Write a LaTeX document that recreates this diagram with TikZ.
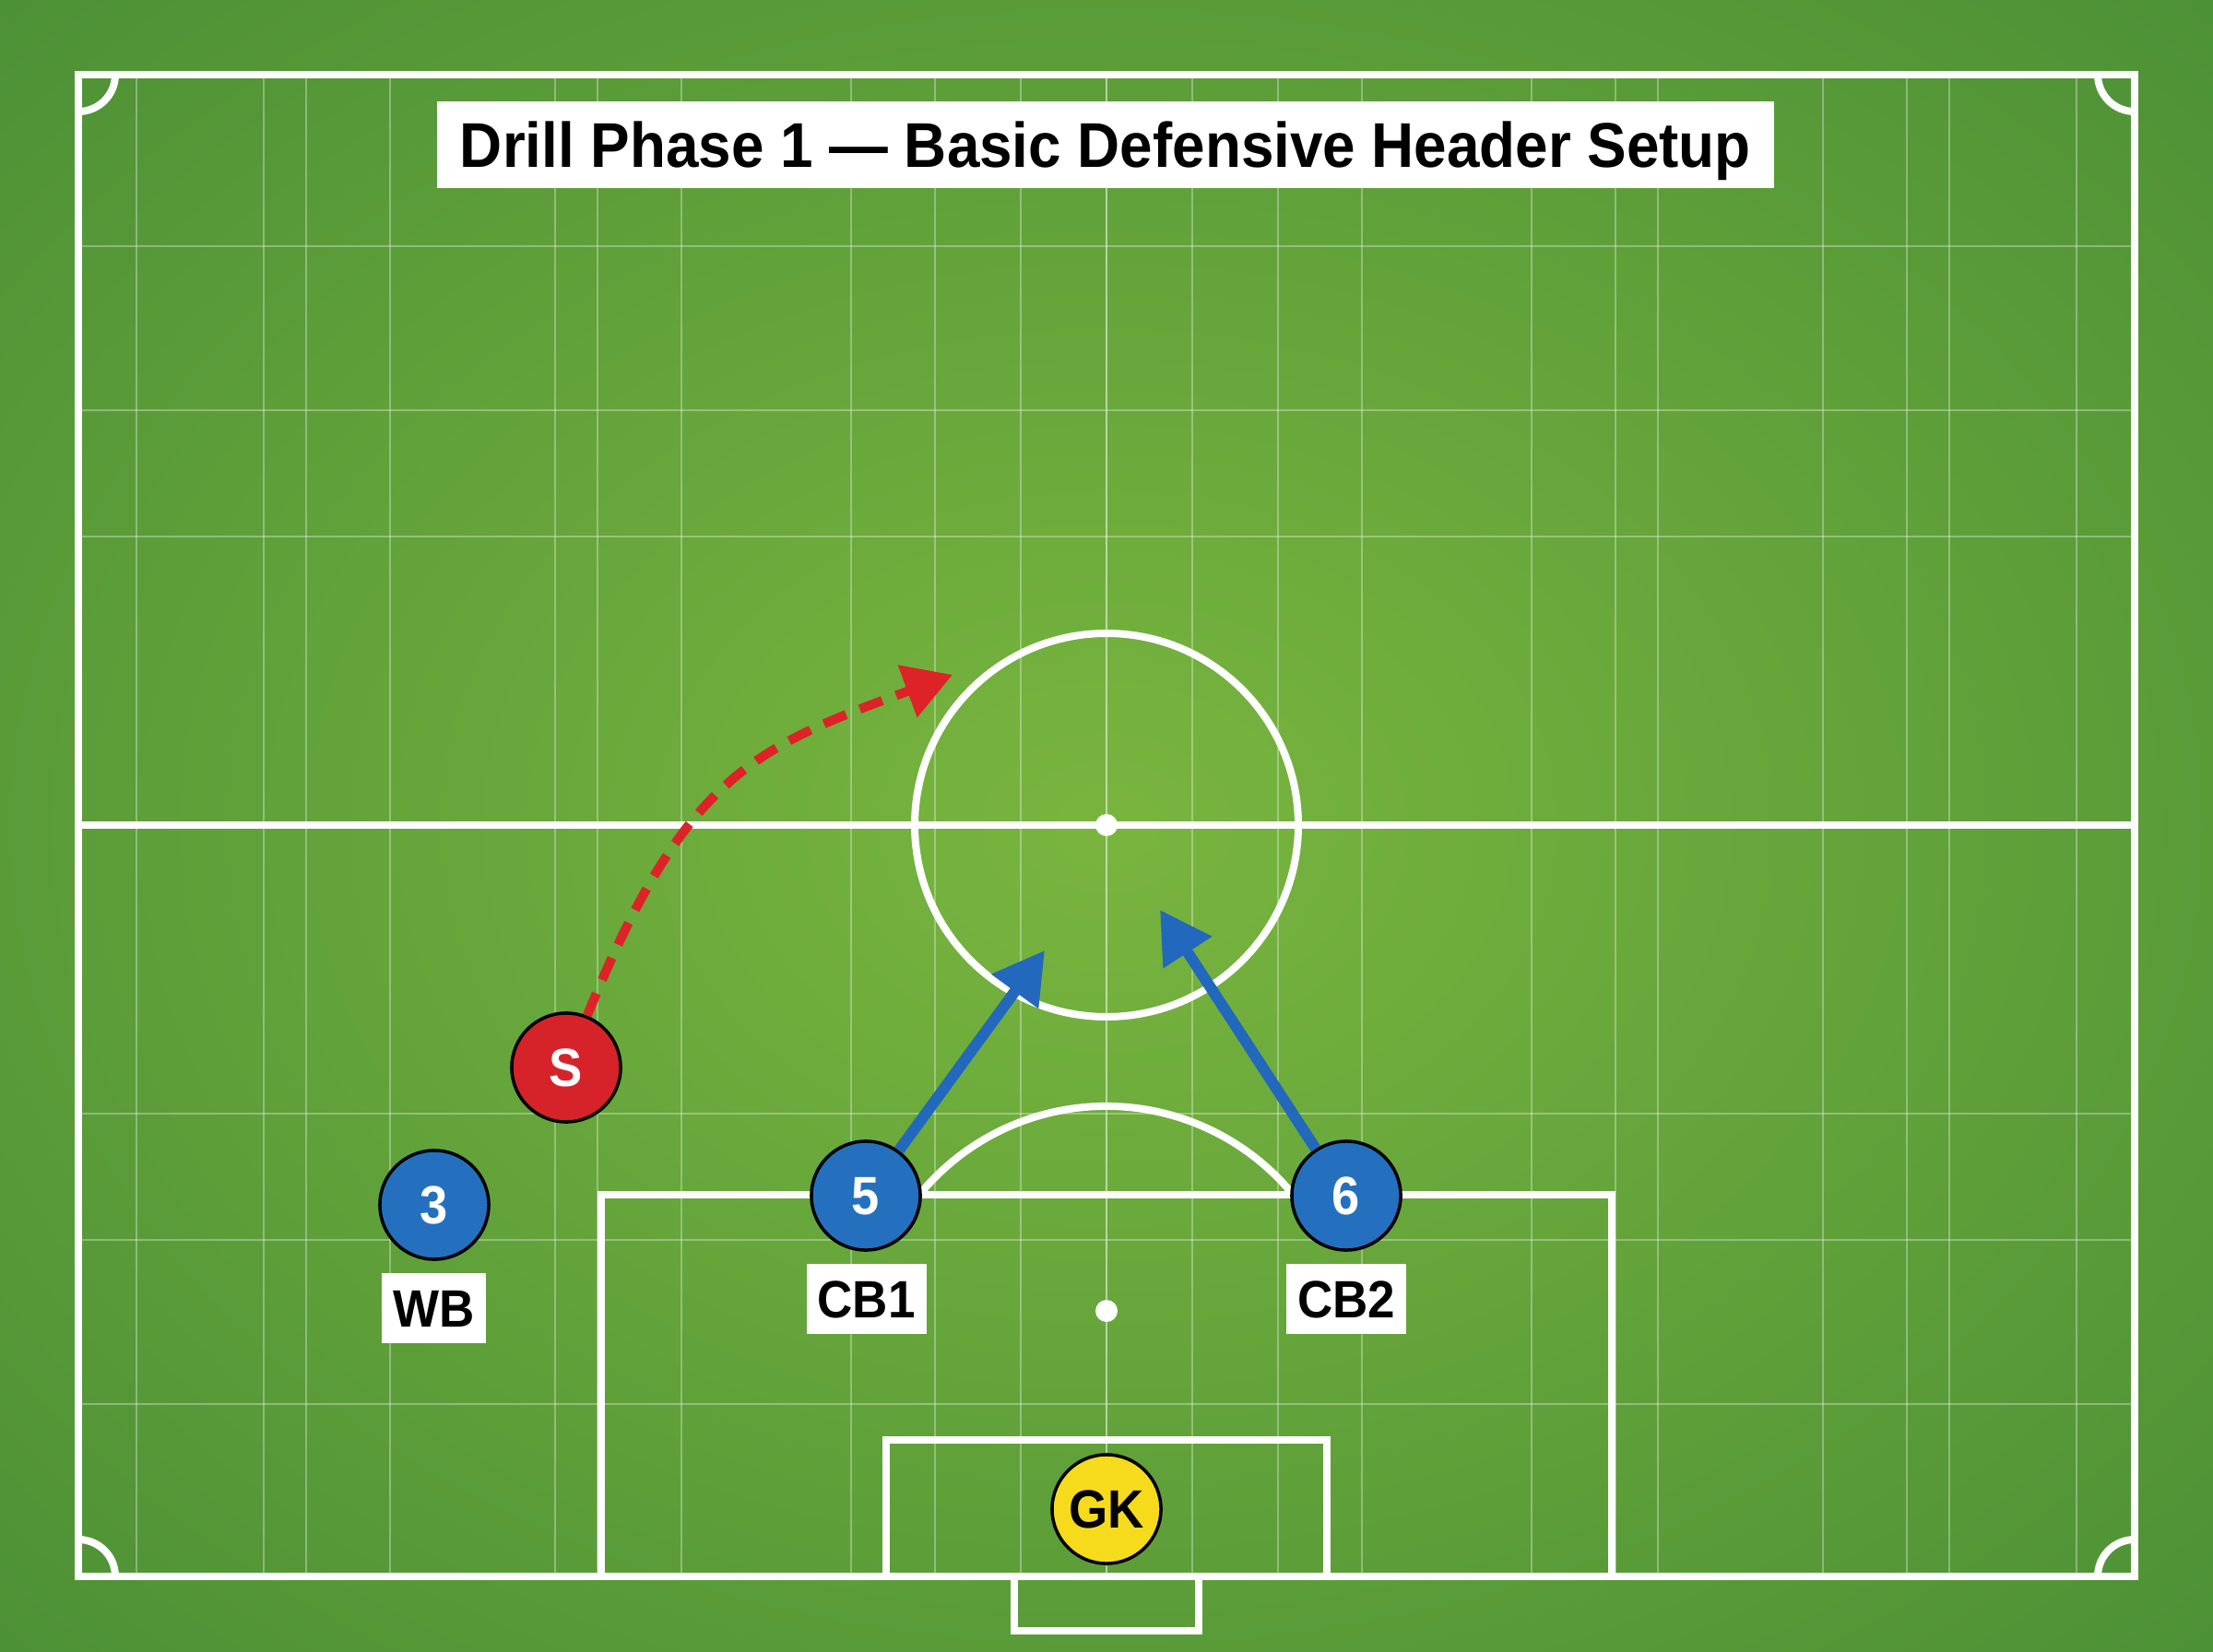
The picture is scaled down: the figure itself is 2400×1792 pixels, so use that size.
\documentclass[tikz,border=0pt]{standalone}
\usepackage{fontspec}
\setmainfont{Liberation Sans}
\newfontfamily\labfont[FakeStretch=0.93]{Liberation Sans}
\usetikzlibrary{arrows.meta}
\definecolor{fieldin}{HTML}{79B53E}
\definecolor{fieldout}{HTML}{4C9036}
\definecolor{pred}{HTML}{D6232A}
\definecolor{pblue}{HTML}{2470BF}
\definecolor{pyellow}{HTML}{F6DB1D}
\definecolor{arrowred}{HTML}{DD2327}
\definecolor{arrowblue}{HTML}{2268BC}
\pgfdeclareradialshading{fieldshade}{\pgfpoint{0bp}{0bp}}{color(0bp)=(fieldin); color(36bp)=(fieldout); color(50bp)=(fieldout)}
\tikzset{
  gridline/.style={white, opacity=0.32, line width=0.6pt},
  pitchline/.style={white, line width=0.08cm},
  player/.style={circle, minimum size=1.18cm, inner sep=0pt, draw=black, line width=1pt,
    font=\labfont\bfseries\fontsize{16.6}{18}\selectfont, text height=11.9pt, text depth=0pt},
  labbox/.style={fill=white, inner xsep=0.12cm, inner ysep=0pt, minimum height=0.75cm,
    font=\labfont\bfseries\fontsize{16.2}{18}\selectfont, text height=11.6pt, text depth=0pt},
  titlebox/.style={fill=white, minimum width=14.5cm, minimum height=0.94cm, inner sep=0pt,
    font=\labfont\bfseries\fontsize{19.5}{22}\selectfont, text height=13.96pt, text depth=0pt},
  redrun/.style={arrowred, line width=0.1cm, dash pattern=on 0.26cm off 0.16cm,
    -{Triangle[length=0.52cm, width=0.58cm]}},
  bluerun/.style={arrowblue, line width=0.12cm, -{Triangle[length=0.55cm, width=0.6cm]}}
}
\begin{document}
\begin{tikzpicture}[x=0.01cm, y=-0.01cm]
\useasboundingbox (0,0) rectangle (2400,1792);
\shade[shading=fieldshade] (0,0) rectangle (2400,1792);
% grid
\foreach \d in {0,93,186,277,461,552,598,777,868,914,1052} {
  \draw[gridline] (1200+\d,81) -- (1200+\d,1710);
  \draw[gridline] (1200-\d,81) -- (1200-\d,1710);
}
\foreach \d in {313,450,628} {
  \draw[gridline] (85,895-\d) -- (2315,895-\d);
  \draw[gridline] (85,895+\d) -- (2315,895+\d);
}
% pitch
\draw[pitchline] (85,81) rectangle (2315,1710);
\draw[pitchline] (85,895) -- (2315,895);
\draw[pitchline] (1200,895) circle[radius=208];
\fill[white] (1200,895) circle[radius=12];
\draw[pitchline] (652,1710) -- (652,1296) -- (1748,1296) -- (1748,1710);
\draw[pitchline] (961,1710) -- (961,1562) -- (1439,1562) -- (1439,1710);
\draw[pitchline] (1100,1710) -- (1100,1769) -- (1300,1769) -- (1300,1710);
\fill[white] (1200,1422) circle[radius=12];
\draw[pitchline] (997,1296) arc[start angle=219.3, end angle=320.7, radius=262];
\draw[pitchline] (125,81) arc[start angle=0, end angle=90, radius=40];
\draw[pitchline] (2315,121) arc[start angle=90, end angle=180, radius=40];
\draw[pitchline] (85,1670) arc[start angle=-90, end angle=0, radius=40];
\draw[pitchline] (2275,1710) arc[start angle=180, end angle=270, radius=40];
% title
\node[titlebox] (title) at (1199,157) {Drill Phase 1 — Basic Defensive Header Setup};
% players
\node[player, fill=pred, text=white] (S) at (614,1158) {S};
\node[player, fill=pblue, text=white] (p3) at (471,1307) {3};
\node[player, fill=pblue, text=white] (p5) at (939,1297) {5};
\node[player, fill=pblue, text=white] (p6) at (1460,1297) {6};
\node[player, fill=pyellow, text=black] (gk) at (1200,1637) {GK};
% labels
\node[labbox] (lwb) at (470.5,1419) {WB};
\node[labbox] (lcb1) at (939.5,1409) {CB1};
\node[labbox] (lcb2) at (1460,1409) {CB2};
% runs
\coordinate (tS) at (1033,732);
\coordinate (t5) at (1133,1031);
\coordinate (t6) at (1258,987);
\draw[redrun] (S) .. controls (742,842) and (817,811) .. (tS);
\draw[bluerun] (p5) -- (t5);
\draw[bluerun] (p6) -- (t6);
\end{tikzpicture}
\end{document}
